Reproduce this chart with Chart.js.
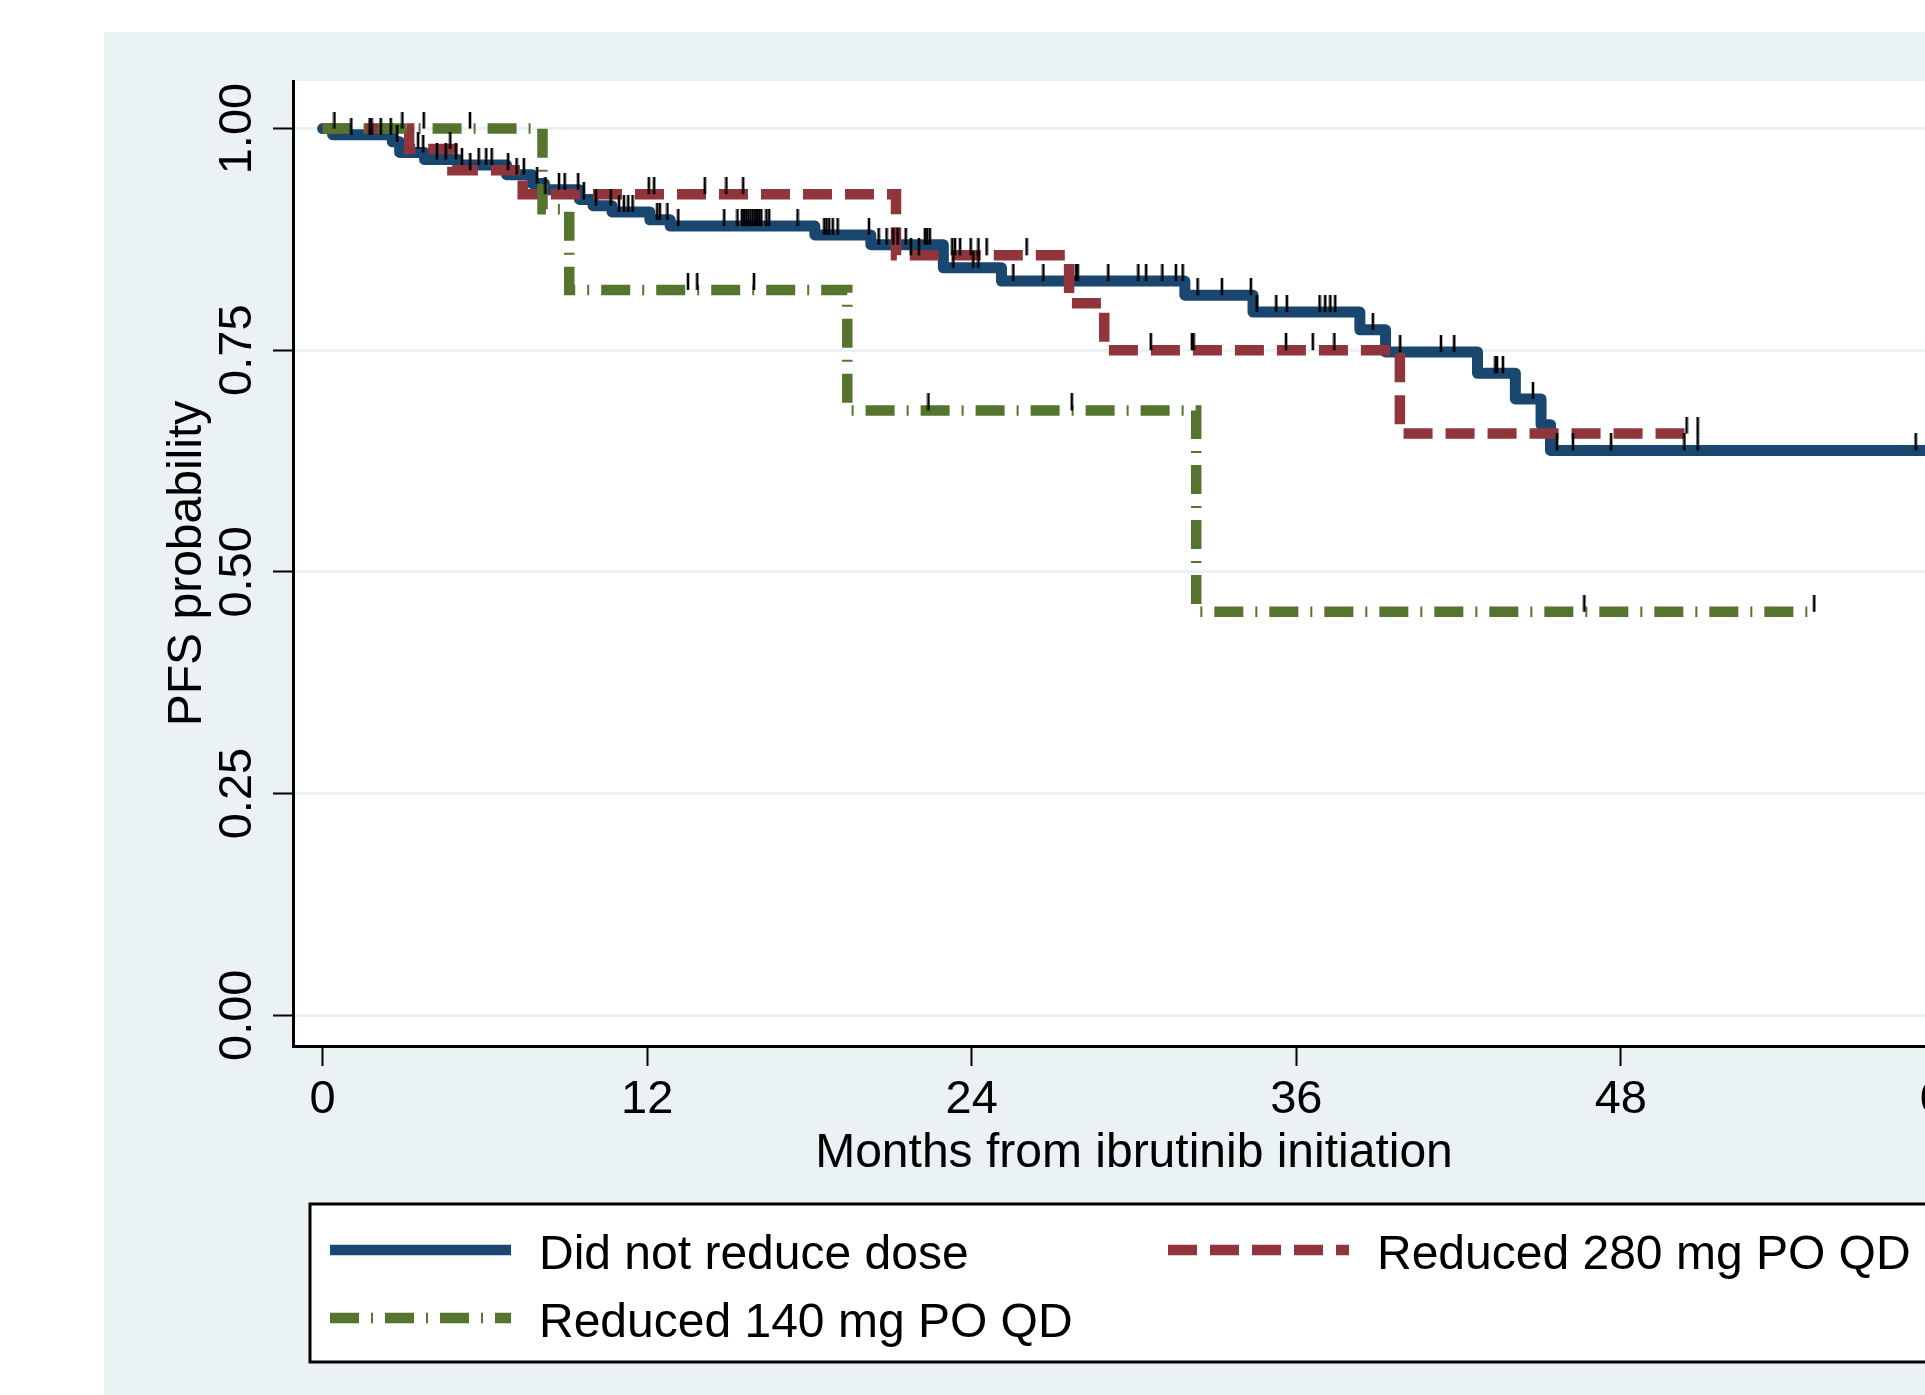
<!DOCTYPE html>
<html>
<head>
<meta charset="utf-8">
<title>PFS by ibrutinib dose reduction</title>
<script src="https://cdn.jsdelivr.net/npm/chart.js@4.4.1/dist/chart.umd.min.js"></script>
<style>
  html, body { margin: 0; padding: 0; background: #fff; overflow: hidden; }
  #wrap { position: absolute; left: 0; top: 0; width: 2200px; height: 1395px; }
</style>
</head>
<body>
<div id="wrap"><canvas id="km" width="2200" height="1395"></canvas></div>
<script>
const xTicks = [0, 12, 24, 36, 48, 60];
const yTicks = [0, 0.25, 0.5, 0.75, 1];

const groupLabels = ["Did not reduce dose", "Reduced 280 mg PO QD", "Reduced 140 mg PO QD"];

// KM steps: month of the drop, survival after the drop (last entry = end of follow-up)
const noRedTime = [0, 0.37, 2.58, 2.85, 3.77, 5.0, 6.8, 7.75, 8.2, 9.5, 10.0, 10.7, 12.1, 12.85,
  18.2, 20.27, 22.95, 25.1, 31.88, 34.4, 38.35, 39.3, 42.7, 44.1, 45.05, 45.4, 60.8];
const noRedSurv = [1, 0.993, 0.985, 0.973, 0.965, 0.959, 0.948, 0.938, 0.931, 0.920, 0.913, 0.906, 0.897, 0.890,
  0.880, 0.869, 0.843, 0.828, 0.812, 0.793, 0.773, 0.748, 0.724, 0.695, 0.666, 0.637, 0.637];
const noRedCens = [1.06, 1.74, 1.81, 2.15, 2.52, 2.76, 3.72, 4.23, 4.55, 4.93, 5.15, 5.77, 6.05, 6.25,
  7.17, 7.44, 7.93, 8.74, 8.95, 9.45, 9.66, 10.1, 10.65, 10.96, 11.14, 11.3, 11.46, 12.37, 12.47, 12.75,
  13.15, 14.85, 15.34, 15.5, 15.58, 15.66, 15.74, 15.82, 15.9, 15.98, 16.06, 16.14, 16.22, 16.41, 16.51,
  17.56, 18.55, 18.63, 18.73, 18.86, 19.04, 20.2, 20.56, 20.85, 21.1, 21.26, 21.56, 22.27, 22.35, 22.45,
  23.32, 24.06, 24.25, 25.54, 26.65, 27.86, 27.92, 29.05, 30.16, 30.45, 31.05, 31.55, 31.8, 32.35, 33.25,
  34.32, 34.54, 35.26, 35.65, 36.86, 37.07, 37.26, 37.44, 38.83, 39.84, 41.35, 41.84, 43.36, 43.42, 43.64,
  44.75, 45.64, 46.23, 47.64, 50.35, 50.84, 58.9];

const red280Time = [0, 3.2, 4.8, 7.4, 21.2, 27.6, 28.9, 39.83, 50.85];
const red280Surv = [1, 0.977, 0.953, 0.926, 0.857, 0.803, 0.750, 0.656, 0.656];
const red280Cens = [2.95, 3.53, 4.72, 5.46, 6.86, 8.24, 12.06, 12.26, 14.13, 14.93, 15.55, 21.75, 22.05,
  23.28, 23.38, 23.57, 23.96, 24.25, 24.55, 26.03, 30.62, 32.14, 32.2, 35.62, 36.61, 37.41, 50.43, 50.84];

const red140Time = [0, 8.13, 9.12, 19.4, 32.3, 55.15];
const red140Surv = [1, 0.909, 0.818, 0.682, 0.455, 0.455];
const red140Cens = [0.44, 3.74, 5.45, 13.51, 13.85, 15.95, 22.4, 27.7, 46.65, 55.15];

const FONT = '"Liberation Sans", Arial, Helvetica, sans-serif';
Chart.defaults.font.family = FONT;
Chart.defaults.color = "#000";

function survAt(times, surv, t) {
  let s = surv[0];
  for (let i = 0; i < times.length; i++) {
    if (times[i] <= t) s = surv[i];
  }
  return s;
}

// small vertical censoring tick, sitting on top of the point
function tickMark() {
  const c = document.createElement("canvas");
  c.width = 4;
  c.height = 34;
  const g = c.getContext("2d");
  g.fillStyle = "#000";
  g.fillRect(0.7, 0, 2.6, 17);
  return c;
}
const tickImg = tickMark();

function kmLine(label, times, surv, color, dash, width, order) {
  return {
    type: "line",
    label: label,
    data: times.map((t, i) => ({ x: t, y: surv[i] })),
    borderColor: color,
    backgroundColor: color,
    borderWidth: width,
    borderDash: dash,
    borderCapStyle: dash.length ? "butt" : "round",
    borderJoinStyle: dash.length ? "miter" : "round",
    stepped: true,
    pointRadius: 0,
    pointHitRadius: 0,
    fill: false,
    order: order,
  };
}

function censorSet(times, surv, cens) {
  return {
    type: "scatter",
    label: "censored",
    data: cens.map((t) => ({ x: t, y: survAt(times, surv, t) })),
    pointStyle: tickImg,
    pointRadius: 1,
    order: 0,
  };
}

const backdrop = {
  id: "backdrop",
  beforeDraw(chart) {
    const { ctx, chartArea: a, width, height } = chart;
    ctx.save();
    ctx.fillStyle = "#ffffff";
    ctx.fillRect(0, 0, width, height);
    ctx.fillStyle = "#eaf2f3";
    ctx.fillRect(104, 32, width - 104, height - 32);
    ctx.fillStyle = "#ffffff";
    ctx.fillRect(a.left, a.top, a.right - a.left, a.bottom - a.top);
    ctx.restore();
  },
};

// Stata-style legend box under the plot
const keyBox = {
  id: "keyBox",
  afterDraw(chart) {
    const ctx = chart.ctx;
    const sets = chart.data.datasets.filter((d) => d.type === "line");
    const spots = [[330, 1250], [1168, 1250], [330, 1318]];
    ctx.save();
    ctx.fillStyle = "#fff";
    ctx.strokeStyle = "#000";
    ctx.lineWidth = 3;
    ctx.fillRect(310, 1204, 1650, 158);
    ctx.strokeRect(310, 1204, 1650, 158);
    sets.forEach((d, i) => {
      const [x, y] = spots[i];
      ctx.beginPath();
      ctx.setLineDash(d.borderDash);
      ctx.lineCap = "butt";
      ctx.strokeStyle = d.borderColor;
      ctx.lineWidth = 10.5;
      ctx.moveTo(x, y);
      ctx.lineTo(x + 181, y);
      ctx.stroke();
      ctx.setLineDash([]);
      ctx.fillStyle = "#000";
      ctx.font = "48px " + FONT;
      ctx.textBaseline = "middle";
      ctx.fillText(d.label, x + 209, y + 6);
    });
    ctx.restore();
  },
};

const ctx = document.getElementById("km").getContext("2d");
const chart = new Chart(ctx, {
  type: "line",
  data: {
    datasets: [
      censorSet(noRedTime, noRedSurv, noRedCens),
      censorSet(red280Time, red280Surv, red280Cens),
      censorSet(red140Time, red140Surv, red140Cens),
      kmLine(groupLabels[0], noRedTime, noRedSurv, "#1a476f", [], 11, 3),
      kmLine(groupLabels[1], red280Time, red280Surv, "#90353b", [29, 13], 10.5, 2),
      kmLine(groupLabels[2], red140Time, red140Surv, "#55752f", [29, 12, 2, 12], 10.5, 1),
    ],
  },
  options: {
    responsive: false,
    devicePixelRatio: 1,
    animation: false,
    layout: { padding: { left: 156, top: 81, right: 225, bottom: 216 } },
    plugins: {
      legend: { display: false },
      tooltip: { enabled: false },
    },
    scales: {
      x: {
        type: "linear",
        min: -1.094,
        max: 61.094,
        afterBuildTicks: (s) => { s.ticks = xTicks.map((v) => ({ value: v })); },
        afterFit: (s) => { s.height = 133; },
        grid: { drawOnChartArea: false, drawTicks: true, tickLength: 20, tickColor: "#000", tickWidth: 2 },
        border: { display: true, color: "#000", width: 3 },
        ticks: { color: "#000", font: { size: 47 }, padding: 6, minRotation: 0, maxRotation: 0, callback: (v) => String(v) },
        title: { display: true, text: "Months from ibrutinib initiation", color: "#000", font: { size: 48 }, padding: { top: 0, bottom: -4 } },
      },
      y: {
        type: "linear",
        min: -0.0347,
        max: 1.0536,
        afterBuildTicks: (s) => { s.ticks = yTicks.map((v) => ({ value: v })); },
        afterFit: (s) => { s.width = 137; },
        grid: { color: "#eaf2f3", lineWidth: 3, drawTicks: true, tickLength: 20, tickColor: "#000", tickWidth: 2 },
        border: { display: true, color: "#000", width: 3 },
        ticks: { color: "#000", font: { size: 47 }, padding: -11, minRotation: 90, maxRotation: 90, crossAlign: "center", callback: (v) => v.toFixed(2) },
        title: { display: true, text: "PFS probability", color: "#000", font: { size: 48 }, padding: { top: 3, bottom: 0 } },
      },
    },
  },
  plugins: [backdrop, keyBox],
});
</script>
</body>
</html>
